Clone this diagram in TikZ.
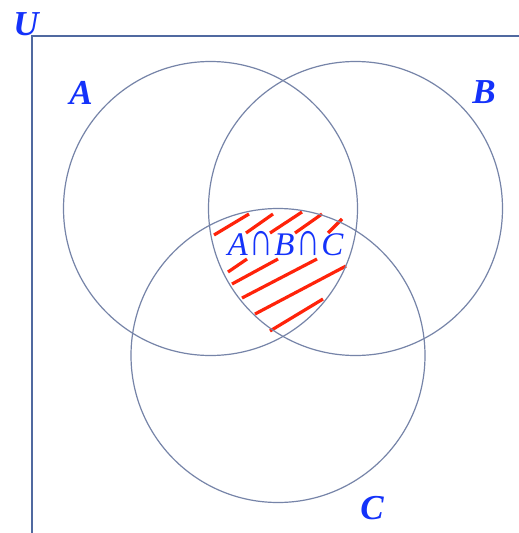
\documentclass[tikz,border=0pt]{standalone}
\usepackage{fontspec}
\usepackage{graphicx}
\setmainfont{Liberation Serif}
\newcommand{\tallcap}{\kern1.5pt\scalebox{1.0}[1.45]{∩}\kern1.5pt}
\begin{document}
\begin{tikzpicture}[x=1pt,y=-1pt,
  setc/.style={draw=circgray,line width=1.2pt},
  framel/.style={draw=framegray,line width=1.3pt},
  lab/.style={text=labblue,font=\fontsize{35}{35}\selectfont\bfseries\itshape,inner sep=0pt},
  hatch/.style={draw=hatchred,line width=3.2pt}]
\definecolor{circgray}{RGB}{118,132,168}
\definecolor{framegray}{RGB}{80,105,160}
\definecolor{labblue}{RGB}{20,50,250}
\definecolor{hatchred}{RGB}{255,35,10}
\useasboundingbox (0,0) rectangle (519,533);
\fill[white] (0,0) rectangle (519,533);
% hatch lines
\draw[hatch] (214,235) -- (249,214);
\draw[hatch] (246,233) -- (273,214);
\draw[hatch] (270,233) -- (302,212);
\draw[hatch] (295,233) -- (322,214);
\draw[hatch] (328,233) -- (342,219);
\draw[hatch] (228,272) -- (247,259);
\draw[hatch] (232,284) -- (278,259);
\draw[hatch] (242,298) -- (317,259);
\draw[hatch] (255,314) -- (346,266);
\draw[hatch] (270,331) -- (323,299);
% circles
\draw[setc] (210.5,208.5) circle (147);
\draw[setc] (355.5,208.5) circle (147);
\draw[setc] (278,355.5) circle (147);
% frame
\coordinate (fb) at (32,533);
\coordinate (fc) at (32,36);
\coordinate (fr) at (519,36);
\draw[framel] (fb) -- (fc) -- (fr);
% labels
\node[lab] (u) at (26,24) {U};
\node[lab] (a) at (81,93) {A};
\node[lab] (b) at (484,92) {B};
\node[lab] (c) at (372,508) {C};
\node[text=labblue,font=\fontsize{33}{33}\selectfont\itshape,inner sep=0pt] (abc) at (285.5,244) {A{\upshape\tallcap}B{\upshape\tallcap}C};
\end{tikzpicture}
\end{document}
